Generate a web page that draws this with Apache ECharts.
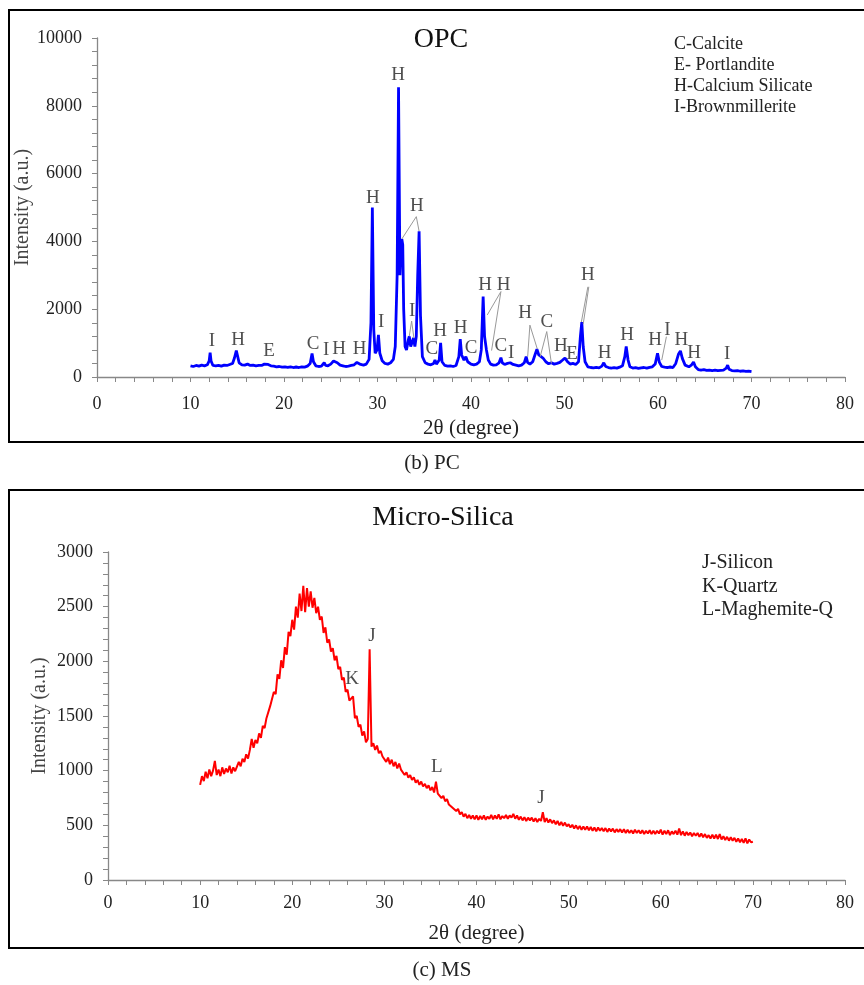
<!DOCTYPE html>
<html>
<head>
<meta charset="utf-8">
<script src="https://cdn.jsdelivr.net/npm/echarts@6/dist/echarts.min.js"></script>
<style>
  html, body { margin: 0; padding: 0; background: #fff; }
  #chart { width: 864px; height: 985px; }
</style>
</head>
<body>
<div id="chart"></div>
<script>
// OPC pattern (2-theta, intensity)
var opcPoints = [
  [10.0,330],[10.3,310],[10.6,340],[10.9,320],[11.2,350],[11.5,330],[11.8,360],[12.0,480],[12.1,720],[12.2,470],
  [12.4,340],[12.7,330],[13.0,345],[13.3,320],[13.6,350],[13.9,340],[14.2,370],[14.5,400],[14.7,560],[14.9,780],
  [15.05,600],[15.2,420],[15.5,360],[15.8,350],[16.1,380],[16.4,340],[16.7,350],[17.0,330],[17.3,345],[17.6,340],
  [17.9,380],[18.1,400],[18.3,370],[18.6,330],[18.9,320],[19.2,300],[19.5,310],[19.8,290],[20.1,300],[20.4,285],
  [20.7,300],[21.0,280],[21.3,295],[21.6,280],[21.9,300],[22.2,290],[22.5,320],[22.8,400],[23.0,690],[23.15,450],
  [23.4,330],[23.7,310],[24.0,320],[24.3,420],[24.45,340],[24.7,330],[25.0,380],[25.3,470],[25.5,490],[25.7,420],
  [26.0,350],[26.3,330],[26.6,310],[26.9,320],[27.2,340],[27.5,360],[27.8,430],[28.0,440],[28.2,370],[28.5,350],
  [28.8,380],[29.1,520],[29.3,1600],[29.45,5000],[29.6,1400],[29.75,700],[29.95,800],[30.1,1240],[30.25,700],[30.5,480],
  [30.8,400],[31.1,380],[31.4,420],[31.7,520],[31.9,900],[32.1,3000],[32.25,8550],[32.4,3000],[32.5,3800],[32.6,4070],
  [32.7,3900],[32.8,2000],[32.95,900],[33.1,800],[33.3,1100],[33.4,1200],[33.55,900],[33.7,950],[33.85,1150],[34.0,900],
  [34.15,1200],[34.3,3000],[34.45,4300],[34.6,1800],[34.8,600],[35.1,420],[35.4,380],[35.7,360],[36.0,400],[36.15,500],
  [36.3,380],[36.6,500],[36.75,1010],[36.9,450],[37.2,340],[37.5,320],[37.8,330],[38.1,310],[38.4,340],[38.7,600],
  [38.85,1120],[39.0,650],[39.25,500],[39.45,600],[39.65,450],[40.0,380],[40.3,360],[40.6,380],[40.9,450],[41.1,800],
  [41.3,2370],[41.45,1200],[41.65,800],[41.85,500],[42.1,380],[42.4,350],[42.7,360],[43.0,420],[43.2,570],[43.35,420],
  [43.6,370],[43.9,400],[44.2,420],[44.5,370],[44.8,350],[45.1,330],[45.4,350],[45.7,420],[45.9,600],[46.05,430],
  [46.3,380],[46.6,450],[46.9,700],[47.05,820],[47.25,650],[47.45,700],[47.7,560],[48.0,450],[48.3,390],[48.6,420],
  [48.9,380],[49.2,400],[49.5,430],[49.8,500],[50.05,560],[50.3,460],[50.6,380],[50.9,400],[51.2,370],[51.5,450],
  [51.7,1200],[51.85,1620],[52.0,900],[52.2,450],[52.5,300],[52.8,280],[53.1,270],[53.4,285],[53.7,270],[54.0,320],
  [54.2,420],[54.4,310],[54.7,280],[55.0,265],[55.3,275],[55.6,260],[55.9,290],[56.2,330],[56.45,600],[56.6,900],
  [56.8,500],[57.0,300],[57.3,265],[57.6,275],[57.9,255],[58.2,270],[58.5,280],[58.8,260],[59.1,285],[59.4,300],
  [59.7,380],[59.95,700],[60.15,430],[60.4,310],[60.7,290],[61.0,280],[61.3,295],[61.6,280],[61.9,400],[62.2,680],
  [62.4,770],[62.6,550],[62.9,350],[63.3,300],[63.6,360],[63.8,440],[64.0,300],[64.3,220],[64.6,205],[64.9,215],
  [65.2,195],[65.5,205],[65.8,190],[66.1,200],[66.4,185],[66.7,195],[67.0,205],[67.3,260],[67.45,350],[67.6,230],
  [67.9,190],[68.2,180],[68.5,190],[68.8,170],[69.1,180],[69.4,165],[69.7,175],[70.0,160]
];

// Micro-silica pattern, recorded from 10 to 70 deg in 0.2 deg steps
var msStart = 10;
var msStep = 0.2;
var msValues = [
  870, 950, 905, 990, 930, 1010, 950, 1000, 1090, 960,
  1010, 950, 1030, 970, 1020, 985, 1045, 975, 1030, 995,
  1010, 1080, 1040, 1110, 1080, 1150, 1110, 1190, 1290, 1210,
  1280, 1250, 1340, 1300, 1410, 1390, 1480, 1470, 1590, 1600,
  1720, 1700, 1880, 1840, 2010, 1940, 2130, 2060, 2270, 2230,
  2380, 2290, 2500, 2400, 2620, 2460, 2690, 2450, 2670, 2500,
  2640, 2490, 2580, 2440, 2500, 2380, 2410, 2260, 2310, 2170,
  2200, 2090, 2120, 2010, 2050, 1930, 1950, 1830, 1850, 1720,
  1740, 1640, 1650, 1680, 1480, 1500, 1400, 1420, 1320, 1360,
  1260, 1290, 2110, 1220, 1250, 1190, 1230, 1160, 1180, 1130,
  1140, 1080, 1120, 1060, 1100, 1040, 1080, 1020, 1065, 1010,
  1010, 960, 985, 935, 960, 915, 940, 890, 915, 870,
  900, 855, 880, 840, 865, 820, 850, 800, 900, 790,
  800, 750, 770, 720, 740, 690, 705, 660, 675, 630,
  650, 600, 620, 580, 605, 565, 595, 560, 590, 555,
  590, 550, 585, 555, 590, 550, 580, 560, 595, 555,
  590, 560, 600, 555, 585, 565, 595, 560, 590, 570,
  605, 560, 590, 550, 580, 545, 575, 540, 570, 545,
  570, 535, 565, 530, 560, 540, 620, 530, 565, 525,
  555, 520, 545, 510, 540, 500, 530, 495, 525, 490,
  510, 480, 505, 470, 500, 465, 495, 460, 490, 460,
  490, 455, 485, 450, 480, 445, 480, 450, 475, 445,
  475, 440, 470, 445, 470, 435, 465, 440, 465, 435,
  465, 430, 460, 430, 455, 425, 460, 430, 455, 425,
  455, 420, 450, 425, 455, 420, 450, 420, 450, 425,
  460, 415, 450, 420, 455, 410, 445, 420, 450, 415,
  470, 410, 445, 405, 440, 410, 435, 400, 430, 405,
  430, 395, 425, 390, 420, 385, 410, 380, 415, 380,
  415, 375, 420, 370, 400, 365, 395, 360, 390, 360,
  385, 350, 380, 345, 375, 340, 380, 335, 370, 345,
  350
];

// phase letters [2theta, intensity, letter]
var opcLabels = [
  [12.3,1060,'I'],[15.1,1090,'H'],[18.4,770,'E'],[23.1,970,'C'],[24.5,800,'I'],[25.9,830,'H'],
  [28.1,830,'H'],[29.5,5280,'H'],[30.4,1620,'I'],[32.2,8910,'H'],[34.2,5040,'H'],[33.7,1950,'I'],
  [35.8,830,'C'],[36.7,1360,'H'],[38.9,1450,'H'],[40.0,860,'C'],[41.5,2710,'H'],[43.5,2710,'H'],
  [43.2,910,'C'],[44.3,710,'I'],[45.8,1890,'H'],[48.1,1620,'C'],[49.6,910,'H'],[50.8,680,'E'],
  [52.5,3010,'H'],[54.3,710,'H'],[56.7,1240,'H'],[59.7,1090,'H'],[61.0,1390,'I'],[62.5,1090,'H'],
  [63.85,710,'H'],[67.4,680,'I']
];
// leader lines [x1, y1, x2, y2]
var opcLeaders = [
  [34.15,4730,32.6,4070],[34.15,4730,34.45,4300],
  [33.65,1650,33.4,1210],[33.65,1650,33.9,1140],
  [43.2,2520,41.74,1830],[43.2,2520,42.2,780],
  [46.3,1530,46.06,600],[46.3,1530,47.1,820],
  [48.1,1340,47.4,600],[48.1,1340,48.6,400],
  [52.5,2660,51.8,1620],[52.6,2660,52.0,1560],
  [60.9,1190,60.4,500]
];
var msLabels = [
  [28.66,2232,'J'],[26.5,1838,'K'],[35.7,1034,'L'],[47.0,750,'J']
];
var opcLegend = ['C-Calcite', 'E- Portlandite', 'H-Calcium Silicate', 'I-Brownmillerite'];
var msLegend = ['J-Silicon', 'K-Quartz', 'L-Maghemite-Q'];

var serif = '"Liberation Serif", "DejaVu Serif", serif';

var msPoints = msValues.map(function (v, i) {
  return [+(msStart + i * msStep).toFixed(2), v];
});

function xAxisCfg(idx) {
  return {
    type: 'value', gridIndex: idx, min: 0, max: 80, interval: 10,
    name: '2θ (degree)', nameLocation: 'middle', nameGap: idx === 0 ? 41 : 43,
    nameMoveOverlap: false,
    nameTextStyle: { fontFamily: serif, fontSize: 21, color: '#222' },
    axisLine: { lineStyle: { color: '#888', width: 1.3 } },
    axisTick: { length: 5, lineStyle: { color: '#888' } },
    minorTick: { show: true, splitNumber: 5, length: 5, lineStyle: { color: '#888' } },
    splitLine: { show: false },
    axisLabel: { fontFamily: serif, fontSize: 18, color: '#222', margin: idx === 0 ? 18 : 14 }
  };
}
function yAxisCfg(idx, max, interval) {
  return {
    type: 'value', gridIndex: idx, min: 0, max: max, interval: interval,
    name: 'Intensity (a.u.)', nameLocation: 'middle', nameRotate: 90,
    nameGap: idx === 0 ? 64 : 58, nameMoveOverlap: false,
    nameTextStyle: { fontFamily: serif, fontSize: 20, color: '#444' },
    axisLine: { show: true, lineStyle: { color: '#888', width: 1.3 } },
    axisTick: { show: true, length: 5, lineStyle: { color: '#888' } },
    minorTick: { show: true, splitNumber: 5, length: 5, lineStyle: { color: '#888' } },
    splitLine: { show: false },
    axisLabel: {
      fontFamily: serif, fontSize: 18, color: '#222', margin: 15,
      formatter: function (v) { return String(v); }
    }
  };
}
function letterSeries(list, idx) {
  return {
    type: 'scatter', xAxisIndex: idx, yAxisIndex: idx, symbolSize: 1,
    itemStyle: { color: 'rgba(0,0,0,0)' }, silent: true, z: 5,
    label: { show: true, position: 'inside', formatter: '{b}', fontFamily: serif, fontSize: 19, color: '#222' },
    data: list.map(function (d) { return { name: d[2], value: [d[0], d[1]] }; })
  };
}

var chart = echarts.init(document.getElementById('chart'));
chart.setOption({
  animation: false,
  backgroundColor: '#fff',
  grid: [
    { left: 97, right: 19, top: 38, height: 339, containLabel: false, outerBoundsMode: 'none' },
    { left: 108, right: 19, top: 552, height: 328, containLabel: false, outerBoundsMode: 'none' }
  ],
  xAxis: [xAxisCfg(0), xAxisCfg(1)],
  yAxis: [yAxisCfg(0, 10000, 2000), yAxisCfg(1, 3000, 500)],
  graphic: [
    { type: 'rect', shape: { x: 9, y: 10, width: 880, height: 432 }, style: { fill: 'none', stroke: '#000', lineWidth: 2 } },
    { type: 'rect', shape: { x: 9, y: 490, width: 880, height: 458 }, style: { fill: 'none', stroke: '#000', lineWidth: 2 } },
    { type: 'text', x: 432, y: 463, style: { text: '(b) PC', font: '21px ' + serif, fill: '#222', textAlign: 'center', textVerticalAlign: 'middle' } },
    { type: 'text', x: 442, y: 970, style: { text: '(c) MS', font: '21px ' + serif, fill: '#222', textAlign: 'center', textVerticalAlign: 'middle' } },
    { type: 'text', x: 441, y: 40, style: { text: 'OPC', font: '28px ' + serif, fill: '#111', textAlign: 'center', textVerticalAlign: 'middle' } },
    { type: 'text', x: 443, y: 518, style: { text: 'Micro-Silica', font: '28px ' + serif, fill: '#111', textAlign: 'center', textVerticalAlign: 'middle' } },
    { type: 'text', x: 674, y: 34, style: { text: opcLegend.join('\n'), font: '18px ' + serif, lineHeight: 21, fill: '#222' } },
    { type: 'text', x: 702, y: 551, style: { text: msLegend.join('\n'), font: '20px ' + serif, lineHeight: 23.5, fill: '#222' } }
  ],
  series: [
    {
      type: 'line', xAxisIndex: 0, yAxisIndex: 0, data: opcPoints, showSymbol: false,
      lineStyle: { color: '#0000ff', width: 2.8 }, z: 3
    },
    {
      type: 'lines', coordinateSystem: 'cartesian2d', xAxisIndex: 0, yAxisIndex: 0, silent: true, z: 4,
      lineStyle: { color: '#999', width: 1, opacity: 1 },
      data: opcLeaders.map(function (l) { return { coords: [[l[0], l[1]], [l[2], l[3]]] }; })
    },
    letterSeries(opcLabels, 0),
    {
      type: 'line', xAxisIndex: 1, yAxisIndex: 1, data: msPoints, showSymbol: false,
      lineStyle: { color: '#ff0000', width: 2 }, z: 3
    },
    letterSeries(msLabels, 1)
  ]
});
</script>
</body>
</html>
